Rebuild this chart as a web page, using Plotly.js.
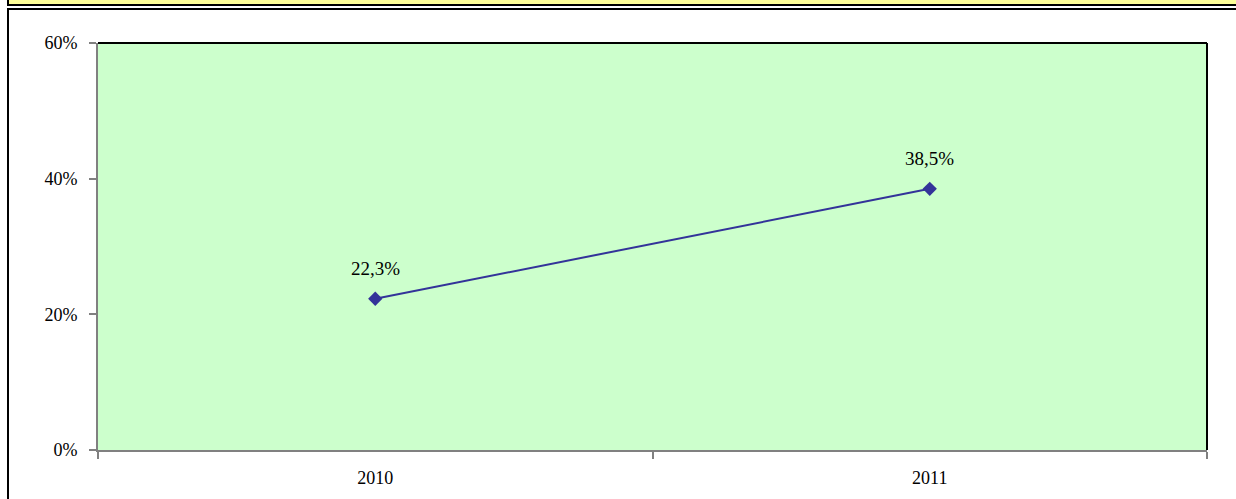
<!DOCTYPE html>
<html>
<head>
<meta charset="utf-8">
<script src="https://cdn.plot.ly/plotly-3.0.1.min.js"></script>
<style>
html,body{margin:0;padding:0;background:#fff;}
#wrap{position:relative;width:1236px;height:499px;overflow:hidden;}
#chart{position:absolute;left:0;top:0;width:1236px;height:499px;}
.f{position:absolute;}
</style>
</head>
<body>
<div id="wrap">
<div id="chart"></div>
<div class="f" style="left:9px;top:0;width:1227px;height:4px;background:#ffff99;"></div>
<div class="f" style="left:7px;top:4px;width:1229px;height:2px;background:#000;"></div>
<div class="f" style="left:7px;top:0;width:2px;height:6px;background:#000;"></div>
<div class="f" style="left:7px;top:8px;width:1229px;height:2px;background:#000;"></div>
<div class="f" style="left:7px;top:8px;width:2px;height:491px;background:#000;"></div>
</div>
<script>
const categories = ["2010", "2011"];
const values = [0.223, 0.385];
const labels = ["22,3%", "38,5%"];
const yTicks = [0, 0.2, 0.4, 0.6];

const trace = {
  x: categories,
  y: values,
  type: "scatter",
  mode: "lines+markers",
  line: {color: "#333399", width: 2},
  marker: {symbol: "diamond", color: "#333399", size: 11},
  hoverinfo: "skip"
};

const annotations = categories.map((c, i) => ({
  x: i, y: values[i], xref: "x", yref: "y",
  text: labels[i], showarrow: false, yshift: 30,
  font: {family: "Liberation Serif", size: 19, color: "#000"}
}));

const layout = {
  width: 1236, height: 499,
  margin: {l: 98, r: 29, t: 43, b: 49, pad: 0},
  paper_bgcolor: "rgba(0,0,0,0)",
  plot_bgcolor: "#ccffcc",
  showlegend: false,
  separators: ",.",
  font: {family: "Liberation Serif", size: 18, color: "#000"},
  xaxis: {
    type: "category",
    range: [-0.5, 1.5],
    tickson: "boundaries",
    ticks: "outside", ticklen: 7, tickwidth: 2, tickcolor: "#808080",
    showline: true, linecolor: "#808080", linewidth: 2,
    showgrid: false, zeroline: false,
    ticklabelstandoff: 10,
    tickfont: {family: "Liberation Serif", size: 18, color: "#000"}
  },
  yaxis: {
    range: [0, 0.6],
    tickvals: yTicks,
    tickformat: ".0%",
    ticks: "outside", ticklen: 7, tickwidth: 2, tickcolor: "#808080",
    showline: true, linecolor: "#808080", linewidth: 2,
    showgrid: false, zeroline: false,
    ticklabelstandoff: 8,
    tickfont: {family: "Liberation Serif", size: 18, color: "#000"}
  },
  shapes: [
    {type: "line", xref: "paper", yref: "paper", x0: 0, x1: 1, y0: 1, y1: 1, line: {color: "#000", width: 2}},
    {type: "line", xref: "paper", yref: "paper", x0: 1, x1: 1, y0: 0, y1: 1, line: {color: "#000", width: 2}}
  ],
  annotations: annotations
};

Plotly.newPlot("chart", [trace], layout, {displayModeBar: false, staticPlot: true});
</script>
</body>
</html>
